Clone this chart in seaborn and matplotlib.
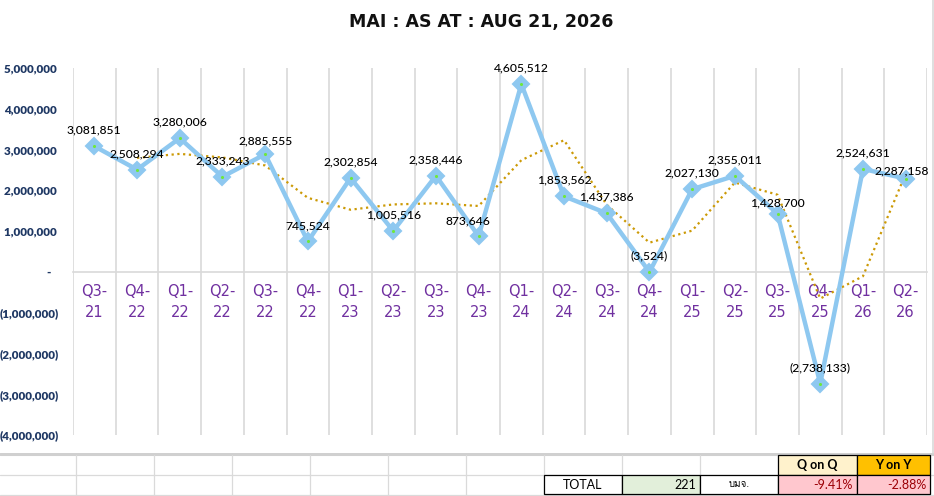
import matplotlib
matplotlib.use("Agg")
import matplotlib.pyplot as plt
import matplotlib.ticker as mticker
from matplotlib.lines import Line2D
from matplotlib.patches import Rectangle
from matplotlib import font_manager
import seaborn as sns
import pandas as pd
import numpy as np

# ---------------- data ----------------
quarters = ["Q3-\n21", "Q4-\n22", "Q1-\n22", "Q2-\n22", "Q3-\n22", "Q4-\n22",
            "Q1-\n23", "Q2-\n23", "Q3-\n23", "Q4-\n23", "Q1-\n24", "Q2-\n24",
            "Q3-\n24", "Q4-\n24", "Q1-\n25", "Q2-\n25", "Q3-\n25", "Q4-\n25",
            "Q1-\n26", "Q2-\n26"]
profit = [3081851, 2508294, 3280006, 2333243, 2885555, 745524,
          2302854, 1005516, 2358446, 873646, 4605512, 1853562,
          1437386, -3524, 2027130, 2355011, 1428700, -2738133,
          2524631, 2287158]
y_ticks = [5000000, 4000000, 3000000, 2000000, 1000000, 0,
           -1000000, -2000000, -3000000, -4000000]
title_text = "MAI : AS AT : AUG 21, 2026"
total_label = "TOTAL"
total_count = "221"
total_unit = "บมจ."
qoq_label, yoy_label = "Q on Q", "Y on Y"
qoq_value, yoy_value = "-9.41%", "-2.88%"

# label offsets in pixels (style only)
label_offsets = {9: (-11, 15), 19: (-4, 8), 16: (0, 11), 4: (0, 13)}

df = pd.DataFrame({"idx": np.arange(len(profit)), "profit": profit})
df["ma2"] = df["profit"].rolling(2).mean()

# find an installed family with Thai glyphs
thai_fams = []
for f in font_manager.fontManager.ttflist:
    if "thai" in f.name.lower() or f.name in ("Loma", "Garuda", "Kinnari",
                                               "Norasi", "Waree", "Sawasdee",
                                               "Umpush", "Purisa", "Laksaman",
                                               "TlwgTypo", "Tlwg Typo"):
        if f.name not in thai_fams:
            thai_fams.append(f.name)
if not thai_fams:
    for f in font_manager.fontManager.ttflist:
        try:
            from matplotlib.ft2font import FT2Font
            ft = FT2Font(f.fname)
            cm = ft.get_charmap()
            if 0x0E1A in cm and 0x0E21 in cm and 0x0E08 in cm:
                if f.name not in thai_fams:
                    thai_fams.append(f.name)
        except Exception:
            pass

# ---------------- figure ----------------
W, H = 934, 496
sns.set_theme(style="white")
plt.rcParams["font.family"] = ["Lato", "DejaVu Sans"]
fig = plt.figure(figsize=(W / 100, H / 100), dpi=100)
fig.patch.set_facecolor("white")

ax = fig.add_axes([73 / W, 1 - 435 / H, (927 - 73) / W, (435 - 68) / H])
ax.set_facecolor("white")

line_col = "#8EC8F0"
sns.lineplot(data=df, x="idx", y="profit", ax=ax, color=line_col, lw=3.2,
             marker="D", markersize=8.5, markerfacecolor=line_col,
             markeredgecolor=line_col, markeredgewidth=1.5, zorder=4)
ax.scatter(df["idx"], df["profit"], s=5, color="#6FE83A", zorder=5, linewidths=0)
sns.lineplot(data=df.dropna(), x="idx", y="ma2", ax=ax, color="#CC9A06",
             lw=1.6, linestyle=(0, (1, 1.6)), zorder=3)

ax.set_xlim(-0.5, len(profit) - 0.5)
ax.set_ylim(-4000000, 5000000)
ax.set_xlabel("")
ax.set_ylabel("")

for s in ["top", "right", "left"]:
    ax.spines[s].set_visible(False)
ax.spines["bottom"].set_position(("data", 0))
ax.spines["bottom"].set_color("#D9D9D9")
ax.spines["bottom"].set_linewidth(1.2)
ax.set_xticks(df["idx"])
ax.set_xticklabels(quarters, color="#7030A0", fontsize=10.5,
                   family=["DejaVu Sans"], linespacing=1.5)
ax.tick_params(axis="x", length=0, pad=9)
ax.set_xticks(np.arange(-0.5, len(profit), 1), minor=True)
ax.grid(which="minor", axis="x", color="#D9D9D9", lw=1.2)
ax.grid(which="major", axis="both", visible=False)
ax.tick_params(axis="x", which="minor", length=0)


def acct(v, pos=None):
    if v == 0:
        return "-   "
    if v < 0:
        return "({:,.0f})".format(-v)
    return "{:,.0f} ".format(v)


ax.set_yticks(y_ticks)
ax.yaxis.set_major_formatter(mticker.FuncFormatter(acct))
ax.tick_params(axis="y", length=0, pad=10, labelsize=8.4, labelcolor="#1F3864")
for t in ax.get_yticklabels():
    t.set_fontweight("heavy")

for i, v in enumerate(profit):
    dx, dy = label_offsets.get(i, (0, 16))
    txt = acct(v).strip()
    ax.annotate(txt, (i, v), xytext=(dx, dy), textcoords="offset pixels",
                ha="center", va="center", fontsize=8.7, color="black",
                fontweight="medium", zorder=6)

fig.text(481 / W, 1 - 22 / H, title_text, ha="center", va="center",
         fontsize=12.5, fontweight="bold", family=["DejaVu Sans"], color="#111111")

fig.add_artist(Line2D([933 / W, 933 / W], [1 - 453 / H, 1], color="#D9D9D9", lw=1.2))

# ---------------- spreadsheet table below ----------------
tab = fig.add_axes([0, 0, 1, 43 / H])
tab.set_xlim(0, W)
tab.set_ylim(496, 453)
tab.axis("off")
grid_col = "#DADADA"
tab.plot([0, W], [454, 454], color="#D0D0D0", lw=2.2)
for yy in (475, 494.5):
    tab.plot([0, W], [yy, yy], color=grid_col, lw=0.9)
for xx in (76, 154, 232, 310, 388, 466, 544, 622, 700, 778, 857, 930):
    tab.plot([xx, xx], [455, 496], color=grid_col, lw=0.9)

cells = [
    (778, 857, 455, 474.5, "#FFF2CC", qoq_label, "center", "black", "bold"),
    (857, 930, 455, 474.5, "#FFC000", yoy_label, "center", "black", "bold"),
    (544, 622, 474.5, 494, "white", total_label, "center", "black", "normal"),
    (622, 700, 474.5, 494, "#E2EFDA", total_count, "right", "black", "normal"),
    (700, 778, 474.5, 494, "white", total_unit, "center", "black", "normal"),
    (778, 857, 474.5, 494, "#FFC7CE", qoq_value, "right", "#9C0006", "normal"),
    (857, 930, 474.5, 494, "#FFC7CE", yoy_value, "right", "#9C0006", "normal"),
]
for x0, x1, y0, y1, fc, txt, ha, tc, fw in cells:
    tab.add_patch(Rectangle((x0, y0), x1 - x0, y1 - y0, facecolor=fc,
                            edgecolor="black", lw=0.9, zorder=3))
    tx = (x0 + x1) / 2 if ha == "center" else x1 - 4
    fs = 7 if txt == total_unit else 9
    fam = (thai_fams + ["DejaVu Sans"]) if txt == total_unit else ["Lato", "DejaVu Sans"]
    tab.text(tx, (y0 + y1) / 2 + 0.5, txt, ha=ha, va="center", fontsize=fs,
             color=tc, fontweight=fw, zorder=4, family=fam)

fig.savefig("out.png", dpi=100, facecolor="white")
